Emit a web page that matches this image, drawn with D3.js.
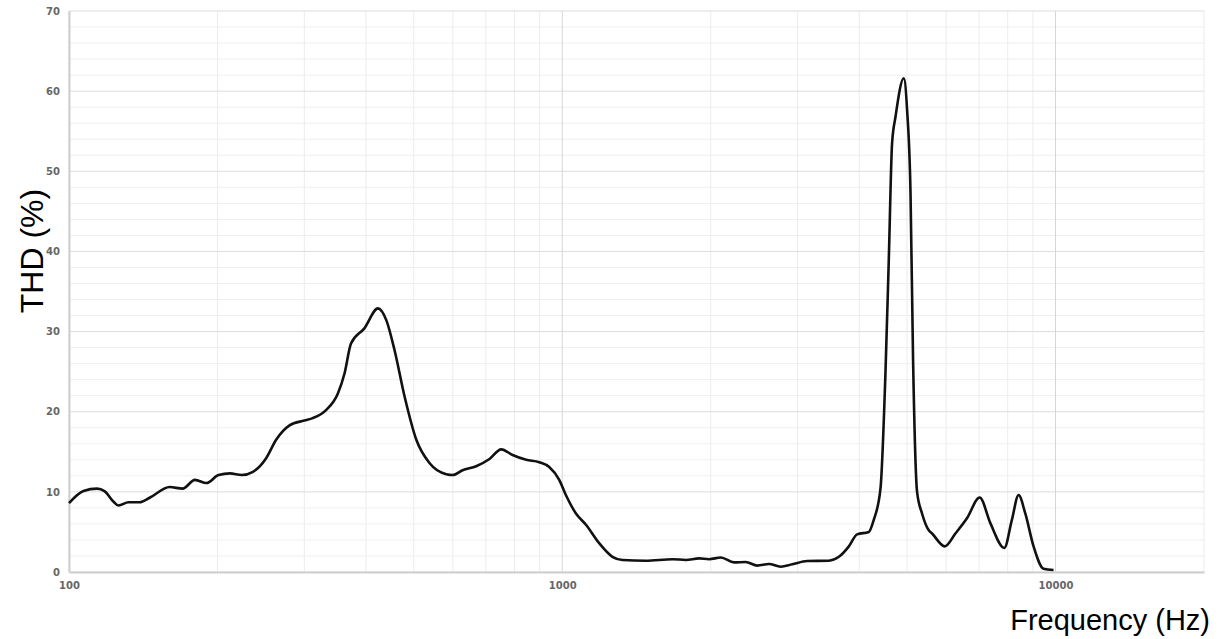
<!DOCTYPE html>
<html>
<head>
<meta charset="utf-8">
<script src="https://cdn.jsdelivr.net/npm/d3@7"></script>
<style>
  body { margin: 0; background: #fff; }
</style>
</head>
<body>
<div id="wrapper"></div>
<script>
// THD curve
const freqs = [100, 107, 114, 118, 123, 126, 132, 139, 146, 160, 170, 180, 190, 201, 212, 224, 236, 251, 263, 280,
  300, 312, 332, 351, 362, 373, 397, 423, 440, 457, 479, 506, 538, 582, 600, 628, 669, 712, 752, 793,
  845, 898, 941, 986, 1017, 1066, 1117, 1188, 1264, 1325, 1477, 1673, 1780, 1894, 1984, 2096, 2230, 2354, 2485, 2624,
  2772, 2926, 3138, 3472, 3638, 3811, 3961, 4183, 4281, 4417, 4522, 4592, 4663, 4738, 4925, 5002, 5082, 5143, 5240, 5363,
  5534, 5620, 5963, 6266, 6614, 7019, 7377, 7875, 8157, 8416, 8684, 9026, 9456, 9908]
const thd = [8.6, 10.1, 10.4, 10.1, 8.8, 8.3, 8.7, 8.7, 9.3, 10.6, 10.4, 11.5, 11.1, 12.1, 12.3, 12.1, 12.5, 14.2, 16.5, 18.3,
  18.9, 19.2, 20.2, 22.3, 24.8, 28.5, 30.4, 32.9, 31.4, 27.7, 21.9, 16.5, 13.6, 12.2, 12.1, 12.7, 13.2, 14.1, 15.3, 14.6,
  14.0, 13.7, 13.1, 11.5, 9.6, 7.3, 5.9, 3.6, 1.9, 1.5, 1.4, 1.6, 1.5, 1.7, 1.6, 1.8, 1.2, 1.25, 0.8, 1.0,
  0.66, 0.96, 1.37, 1.41, 1.9, 3.2, 4.7, 5.0, 6.5, 10.4, 25, 39, 53.5, 56.8, 61.6, 57.6, 47.3, 26.5, 10.0, 7.3,
  5.2, 4.8, 3.2, 4.8, 6.7, 9.3, 6.1, 3.0, 6.5, 9.6, 7.3, 3.2, 0.4, 0.25]

const xTickValues = [100, 1000, 10000]
const yTickValues = [0, 10, 20, 30, 40, 50, 60, 70]
const xTitle = "Frequency (Hz)"
const yTitle = "THD (%)"

const dataset = freqs.map((f, i) => ({ f: f, v: thd[i] }))

let dimensions = {
    width: 1218,
    height: 639,
    margin: { top: 11, right: 14, bottom: 67, left: 69 },
}
dimensions.boundedWidth = dimensions.width - dimensions.margin.left - dimensions.margin.right
dimensions.boundedHeight = dimensions.height - dimensions.margin.top - dimensions.margin.bottom

const wrapper = d3.select("#wrapper")
    .append("svg")
    .attr("width", dimensions.width)
    .attr("height", dimensions.height)

const bounds = wrapper.append("g")
    .attr("transform", `translate(${dimensions.margin.left},${dimensions.margin.top})`)

const xScale = d3.scaleLog()
    .domain([100, 20000])
    .range([0, dimensions.boundedWidth])

const yScale = d3.scaleLinear()
    .domain([0, 70])
    .range([dimensions.boundedHeight, 0])

// grid: minor first, then major on top
const minorY = d3.range(0, 71, 2).filter(d => d % 10 !== 0)
bounds.selectAll(".minor-y")
    .data(minorY)
    .enter().append("line")
    .attr("x1", 0).attr("x2", dimensions.boundedWidth)
    .attr("y1", d => yScale(d)).attr("y2", d => yScale(d))
    .attr("stroke", "#efefef")

const minorX = xScale.ticks().filter(d => !xTickValues.includes(d))
bounds.selectAll(".minor-x")
    .data(minorX)
    .enter().append("line")
    .attr("x1", d => xScale(d)).attr("x2", d => xScale(d))
    .attr("y1", 0).attr("y2", dimensions.boundedHeight)
    .attr("stroke", "#ececec")

bounds.selectAll(".major-y")
    .data(yTickValues)
    .enter().append("line")
    .attr("x1", 0).attr("x2", dimensions.boundedWidth)
    .attr("y1", d => yScale(d)).attr("y2", d => yScale(d))
    .attr("stroke", "#dcdcdc")

bounds.selectAll(".major-x")
    .data(xTickValues)
    .enter().append("line")
    .attr("x1", d => xScale(d)).attr("x2", d => xScale(d))
    .attr("y1", 0).attr("y2", dimensions.boundedHeight)
    .attr("stroke", "#d6d6d6")

// axes (labels only)
const xAxis = d3.axisBottom(xScale).tickValues(xTickValues).tickFormat(d3.format("d")).tickSize(0).tickPadding(10)
const xAxisG = bounds.append("g")
    .attr("transform", `translate(0,${dimensions.boundedHeight})`)
    .call(xAxis)
xAxisG.select(".domain").attr("stroke", "#cfcfcf").attr("stroke-width", 2)

const yAxis = d3.axisLeft(yScale).tickValues(yTickValues).tickSize(0).tickPadding(9)
const yAxisG = bounds.append("g").call(yAxis)
yAxisG.select(".domain").attr("stroke", "#cfcfcf").attr("stroke-width", 2)

bounds.selectAll(".tick text")
    .attr("fill", "#666")
    .style("font-family", "DejaVu Sans, sans-serif")
    .style("font-size", "10px")
    .style("font-weight", "bold")

// the curve
const lineGenerator = d3.line()
    .x(d => xScale(d.f))
    .y(d => yScale(d.v))
    .curve(d3.curveMonotoneX)

bounds.append("path")
    .datum(dataset)
    .attr("d", lineGenerator)
    .attr("fill", "none")
    .attr("stroke", "#111")
    .attr("stroke-width", 2.6)
    .attr("stroke-linejoin", "round")

// titles
wrapper.append("text")
    .attr("x", 1210)
    .attr("y", 630)
    .attr("text-anchor", "end")
    .style("font-family", "Liberation Sans, sans-serif")
    .style("font-size", "29px")
    .text(xTitle)

wrapper.append("text")
    .attr("transform", "translate(43,251) rotate(-90)")
    .attr("text-anchor", "middle")
    .style("font-family", "Liberation Sans, sans-serif")
    .style("font-size", "32px")
    .text(yTitle)
</script>
</body>
</html>
